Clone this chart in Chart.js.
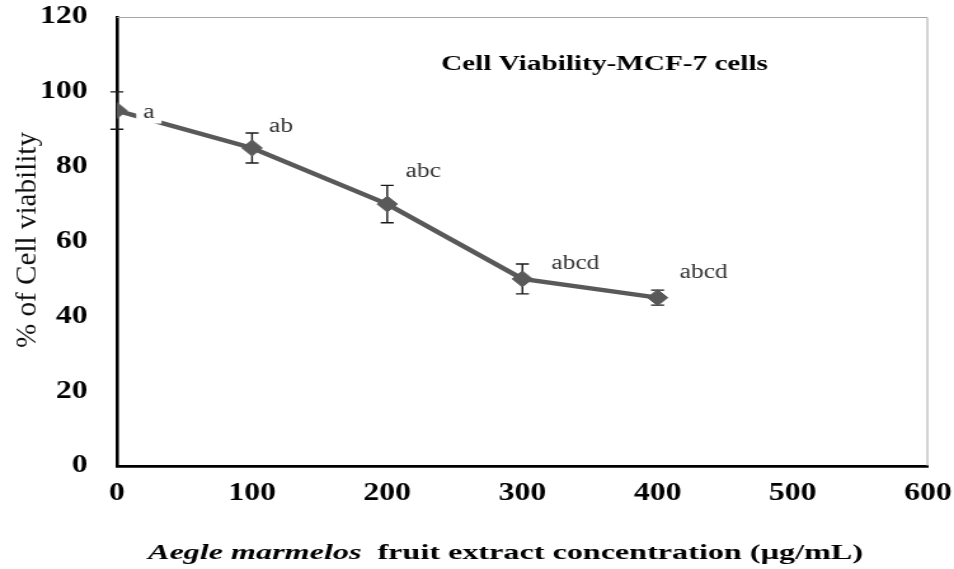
<!DOCTYPE html>
<html>
<head>
<meta charset="utf-8">
<script src="https://cdn.jsdelivr.net/npm/chart.js@4.4.0/dist/chart.umd.min.js"></script>
<style>
  html, body { margin: 0; padding: 0; background: #fff; overflow: hidden; }
  #wrap { width: 954px; height: 569px; overflow: hidden; }
  /* the original figure is stretched sideways, so draw narrow and widen it */
  #chart { transform: scaleX(1.2703); transform-origin: 0 0; display: block; }
</style>
</head>
<body>
<div id="wrap"><canvas id="chart" width="751" height="569"></canvas></div>
<script>
// data
const concentrations = [0, 100, 200, 300, 400];
const viability = [95, 85, 70, 50, 45];
const viabilityError = [5, 4, 5, 4, 2];
const groupLetters = ["a", "ab", "abc", "abcd", "abcd"];
const xTicks = [0, 100, 200, 300, 400, 500, 600];
const yTicks = [0, 20, 40, 60, 80, 100, 120];

const SX = 954 / 751;           // horizontal stretch applied by css
const px = v => v / SX;         // image px -> canvas px (x only)

// where each letter sits relative to its point, in image px (dx, baseline dy)
const letterNudge = [[32, 7], [29, -16], [36, -27], [53, -10], [46, -20]];

const serif = "'Liberation Serif', 'Times New Roman', serif";

function fitText(ctx, parts, left, baseline, width) {
  // parts: [[font, text], ...] drawn side by side, squeezed/stretched to width
  let total = 0;
  parts.forEach(p => { ctx.font = p[0]; total += ctx.measureText(p[1]).width; });
  const k = px(width) / total;
  ctx.save();
  ctx.translate(px(left), baseline);
  ctx.scale(k, 1);
  ctx.textAlign = "left";
  ctx.textBaseline = "alphabetic";
  let x = 0;
  parts.forEach(p => {
    ctx.font = p[0];
    ctx.fillText(p[1], x, 0);
    x += ctx.measureText(p[1]).width;
  });
  ctx.restore();
}

const extras = {
  id: "extras",
  beforeDatasetsDraw(chart) {
    const { ctx, chartArea: a, scales: { x, y } } = chart;
    ctx.save();
    // thin grey frame on top and right
    ctx.strokeStyle = "#a6a6a6";
    ctx.lineWidth = 1;
    ctx.beginPath();
    ctx.moveTo(a.left, a.top + 0.5);
    ctx.lineTo(a.right - 0.5, a.top + 0.5);
    ctx.lineTo(a.right - 0.5, a.bottom);
    ctx.stroke();
    // error bars
    ctx.strokeStyle = "#1a1a1a";
    ctx.lineWidth = 1.4;
    const cap = px(6.5);
    concentrations.forEach((c, i) => {
      const cx = x.getPixelForValue(c);
      const top = y.getPixelForValue(viability[i] + viabilityError[i]);
      const bot = y.getPixelForValue(viability[i] - viabilityError[i]);
      ctx.beginPath();
      ctx.moveTo(cx, top); ctx.lineTo(cx, bot);
      ctx.moveTo(cx - cap, top); ctx.lineTo(cx + cap, top);
      ctx.moveTo(cx - cap, bot); ctx.lineTo(cx + cap, bot);
      ctx.stroke();
    });
    ctx.restore();
  },
  afterDatasetsDraw(chart) {
    const { ctx, scales: { x, y } } = chart;
    ctx.save();
    ctx.font = "20px " + serif;
    ctx.textAlign = "center";
    ctx.textBaseline = "alphabetic";
    groupLetters.forEach((t, i) => {
      const lx = x.getPixelForValue(concentrations[i]) + px(letterNudge[i][0]);
      const ly = y.getPixelForValue(viability[i]) + letterNudge[i][1];
      const w = ctx.measureText(t).width;
      ctx.fillStyle = "#fff";
      ctx.fillRect(lx - w / 2 - px(7), ly - 15, w + px(14), 21);
      ctx.fillStyle = "#333";
      ctx.fillText(t, lx, ly);
    });
    ctx.restore();
  },
  afterDraw(chart) {
    const ctx = chart.ctx;
    ctx.save();
    ctx.fillStyle = "#000";
    // chart title inside the plot
    fitText(ctx, [["bold 20px " + serif, "Cell Viability-MCF-7 cells"]], 441, 70, 327);
    // x axis title, species name in italics
    fitText(ctx, [
      ["italic bold 21px " + serif, "Aegle marmelos"],
      ["bold 21px " + serif, "  fruit extract concentration (\u00b5g/mL)"]
    ], 148, 559, 715);
    // y axis title
    ctx.font = "24px " + serif;
    const label = "% of Cell viability";
    const k = 216 / ctx.measureText(label).width;
    ctx.translate(px(28), 240);
    ctx.rotate(-Math.PI / 2);
    ctx.scale(k, 1);
    ctx.fillStyle = "#111";
    ctx.textAlign = "center";
    ctx.textBaseline = "middle";
    ctx.fillText(label, 0, 0);
    ctx.restore();
  }
};

new Chart(document.getElementById("chart"), {
  type: "line",
  data: {
    datasets: [{
      data: concentrations.map((c, i) => ({ x: c, y: viability[i] })),
      borderColor: "#595959",
      backgroundColor: "#595959",
      borderWidth: 4.5,
      pointStyle: "rectRot",
      pointRadius: 8,
      pointBorderWidth: 1,
      pointBorderColor: "#595959",
      pointBackgroundColor: "#595959",
      tension: 0
    }]
  },
  options: {
    responsive: false,
    animation: false,
    events: [],
    layout: { padding: { left: 0, right: 20.5, top: 17, bottom: 0 } },
    plugins: { legend: { display: false }, tooltip: { enabled: false } },
    scales: {
      x: {
        type: "linear",
        min: 0,
        max: 600,
        afterBuildTicks: s => { s.ticks = xTicks.map(v => ({ value: v })); },
        afterFit: s => { s.height = 103; s.paddingLeft = 0; s.paddingRight = 0; },
        grid: { display: false, drawTicks: false },
        border: { display: true, color: "#000", width: 2.8 },
        ticks: { padding: 13, color: "#000", font: { family: serif, size: 25, weight: "bold" } }
      },
      y: {
        type: "linear",
        min: 0,
        max: 120,
        afterBuildTicks: s => { s.ticks = yTicks.map(v => ({ value: v })); },
        afterFit: s => { s.width = 92; s.paddingTop = 0; s.paddingBottom = 0; },
        grid: { display: false, drawTicks: false },
        border: { display: true, color: "#000", width: 2.6 },
        ticks: { padding: 23, color: "#000", font: { family: serif, size: 25, weight: "bold" } }
      }
    }
  },
  plugins: [extras]
});
</script>
</body>
</html>
